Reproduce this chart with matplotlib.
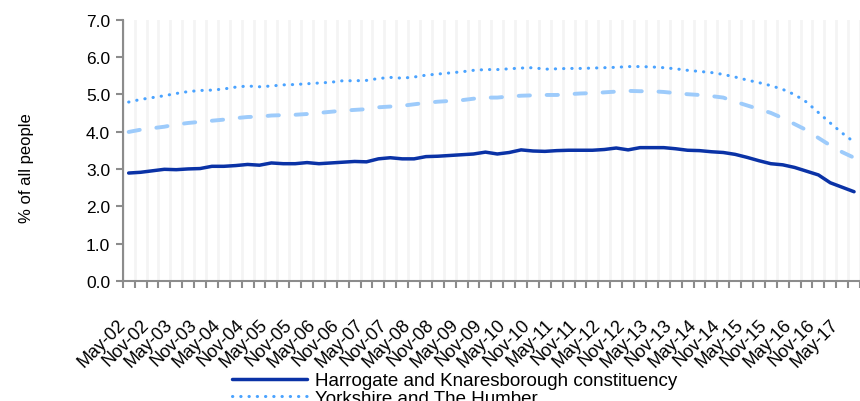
import matplotlib.pyplot as plt
import numpy as np

plt.rcParams['font.family'] = ['Liberation Sans', 'DejaVu Sans']

# quarterly claimant rates, May-02 .. Aug-17 (% of all people)
harrogate = [2.89, 2.91, 2.95, 2.99, 2.98, 3.00, 3.01, 3.07, 3.07, 3.09, 3.12, 3.10,
             3.16, 3.14, 3.14, 3.17, 3.14, 3.16, 3.18, 3.20, 3.19, 3.27, 3.30, 3.27,
             3.27, 3.33, 3.34, 3.36, 3.38, 3.40, 3.45, 3.40, 3.44, 3.51, 3.48, 3.47,
             3.49, 3.50, 3.50, 3.50, 3.52, 3.56, 3.51, 3.57, 3.57, 3.57, 3.54, 3.50,
             3.49, 3.46, 3.44, 3.39, 3.31, 3.22, 3.14, 3.11, 3.04, 2.94, 2.84, 2.63,
             2.51, 2.39]
yorkshire = [4.79, 4.86, 4.91, 4.96, 5.02, 5.07, 5.10, 5.11, 5.14, 5.19, 5.22, 5.20,
             5.22, 5.25, 5.26, 5.28, 5.30, 5.32, 5.36, 5.36, 5.37, 5.42, 5.45, 5.43,
             5.46, 5.51, 5.54, 5.57, 5.60, 5.64, 5.66, 5.66, 5.68, 5.70, 5.71, 5.67,
             5.68, 5.69, 5.69, 5.70, 5.71, 5.72, 5.74, 5.74, 5.73, 5.71, 5.68, 5.64,
             5.61, 5.58, 5.53, 5.46, 5.38, 5.31, 5.23, 5.13, 4.99, 4.79, 4.51, 4.23,
             3.96, 3.72]
great_britain = [3.99, 4.05, 4.09, 4.13, 4.19, 4.23, 4.26, 4.29, 4.32, 4.36, 4.39, 4.40,
                 4.43, 4.44, 4.45, 4.47, 4.50, 4.53, 4.56, 4.58, 4.60, 4.65, 4.67, 4.69,
                 4.73, 4.77, 4.80, 4.82, 4.84, 4.88, 4.91, 4.91, 4.94, 4.96, 4.97, 4.98,
                 4.98, 5.00, 5.02, 5.03, 5.05, 5.07, 5.09, 5.08, 5.08, 5.06, 5.03, 5.00,
                 4.98, 4.95, 4.91, 4.80, 4.70, 4.60, 4.50, 4.36, 4.20, 4.04, 3.83, 3.63,
                 3.45, 3.30]

tick_labels = ['May-02', 'Nov-02', 'May-03', 'Nov-03', 'May-04', 'Nov-04', 'May-05',
               'Nov-05', 'May-06', 'Nov-06', 'May-07', 'Nov-07', 'May-08', 'Nov-08',
               'May-09', 'Nov-09', 'May-10', 'Nov-10', 'May-11', 'Nov-11', 'May-12',
               'Nov-12', 'May-13', 'Nov-13', 'May-14', 'Nov-14', 'May-15', 'Nov-15',
               'May-16', 'Nov-16', 'May-17']
y_ticks = [0.0, 1.0, 2.0, 3.0, 4.0, 5.0, 6.0, 7.0]

x = np.arange(len(harrogate))

fig = plt.figure(figsize=(8.6, 4.02), dpi=100)
ax = fig.add_axes([0.1427, 0.2985, 0.8573, 0.6505])

# light vertical stripes at category boundaries
for b in np.arange(-0.5, len(x) + 0.5, 1):
    ax.axvline(b, color='#f4f4f4', lw=2.0, zorder=0)

ax.plot(x, harrogate, color='#0a32a6', lw=2.5, solid_capstyle='round',
        label='Harrogate and Knaresborough constituency', zorder=3)
ax.plot(x, yorkshire, color='#4aa3ff', lw=2.2, ls=(0, (0.1, 2.6)), dash_capstyle='round',
        label='Yorkshire and The Humber', zorder=3)
ax.plot(x, great_britain, color='#9dcbfb', lw=2.8, ls=(0, (2.9, 4.3)), dash_capstyle='round',
        label='Great Britain', zorder=3)

ax.set_xlim(-0.5, 61.0)
ax.set_ylim(0, 7)
ax.set_yticks(y_ticks)
ax.set_yticklabels([f'{v:.1f}' for v in y_ticks], fontsize=12.5)

ax.set_xticks(x[::2])
ax.set_xticklabels(tick_labels, rotation=45, ha='right', fontsize=13)
ax.set_xticks(np.arange(-0.5, len(x), 1), minor=True)
ax.tick_params(axis='x', which='major', length=0, pad=25)
ax.tick_params(axis='x', which='minor', length=5, width=1.5, color='#8c8c8c')
ax.tick_params(axis='y', length=5, width=1.5, color='#8c8c8c', pad=4)

for s in ['top', 'right']:
    ax.spines[s].set_visible(False)
for s in ['left', 'bottom']:
    ax.spines[s].set_color('#8c8c8c')
    ax.spines[s].set_linewidth(1.5)

fig.text(27 / 860, 1 - 168 / 402, '% of all people', rotation=90, fontsize=12,
         ha='center', va='center')

fig.legend(loc='upper left', bbox_to_anchor=(232 / 860, 1 - 373 / 402), frameon=False,
           fontsize=13.5, handlelength=4, handletextpad=0.45, labelspacing=0.04,
           borderpad=0, borderaxespad=0)

fig.savefig('out.png', dpi=100)
